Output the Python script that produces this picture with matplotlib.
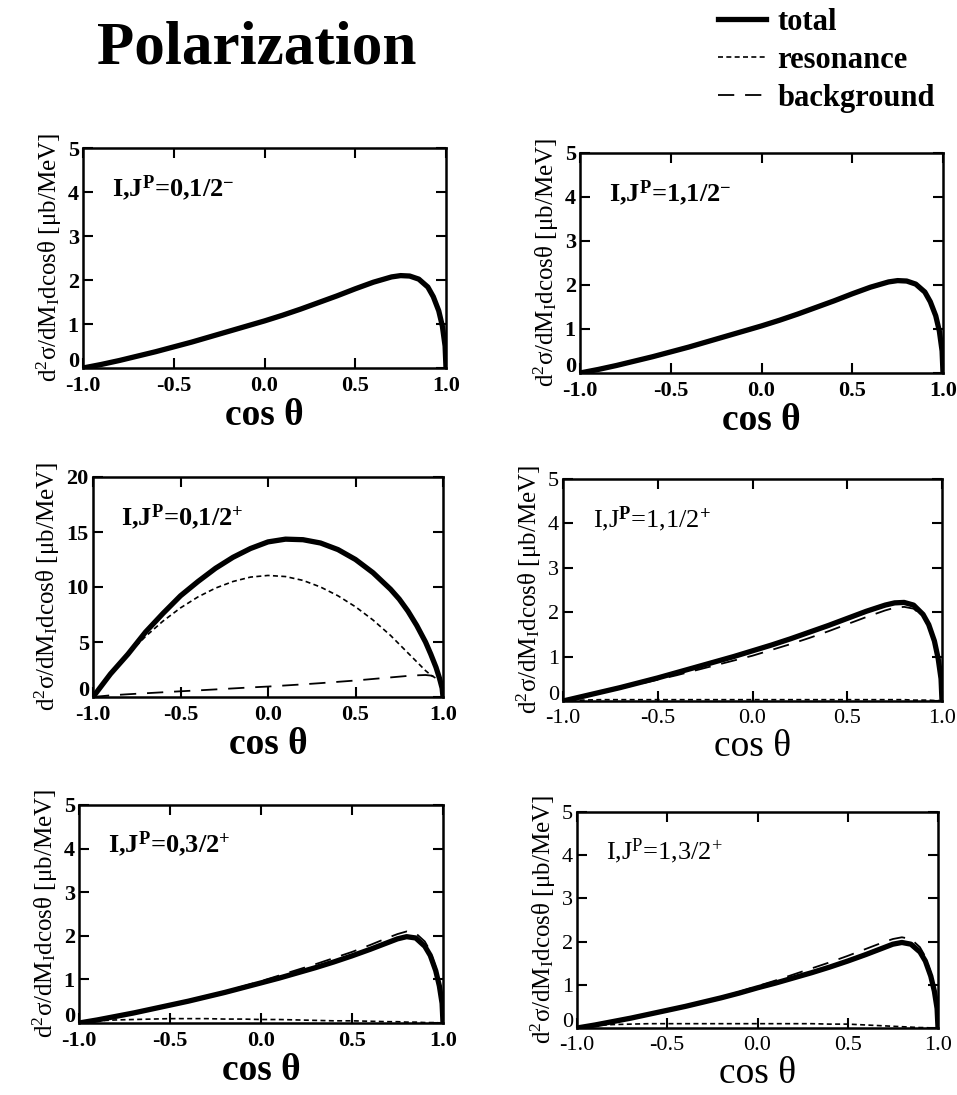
import numpy as np
import matplotlib
matplotlib.use("Agg")
import matplotlib.pyplot as plt
from matplotlib.lines import Line2D
from matplotlib.transforms import ScaledTranslation

plt.rcParams['font.family'] = ['Liberation Serif', 'DejaVu Serif']
plt.rcParams['mathtext.fontset'] = 'custom'
plt.rcParams['mathtext.rm'] = 'Liberation Serif'
plt.rcParams['mathtext.it'] = 'Liberation Serif:italic'
plt.rcParams['mathtext.bf'] = 'Liberation Serif:bold'

# cos(theta) grid shared by all curves
cos_t = [-1.0, -0.9, -0.8, -0.7, -0.6, -0.5, -0.4, -0.3, -0.2, -0.1, 0.0,
         0.1, 0.2, 0.3, 0.4, 0.5, 0.6, 0.7, 0.75, 0.8, 0.85, 0.9, 0.93,
         0.96, 0.98, 0.995, 1.0]

# I,J^P = 0,1/2-
tot_01m = [0.0, 0.08, 0.17, 0.27, 0.37, 0.48, 0.59, 0.71, 0.83, 0.95, 1.07,
           1.2, 1.34, 1.49, 1.64, 1.8, 1.95, 2.07, 2.1, 2.09, 2.02, 1.84, 1.62,
           1.3, 0.95, 0.5, 0.0]
# I,J^P = 1,1/2-
tot_11m = [0.0, 0.08, 0.17, 0.27, 0.37, 0.48, 0.59, 0.71, 0.83, 0.95, 1.07,
           1.2, 1.34, 1.49, 1.64, 1.8, 1.95, 2.07, 2.1, 2.09, 2.02, 1.84, 1.62,
           1.3, 0.95, 0.5, 0.0]
# I,J^P = 0,1/2+
tot_01p = [0.0, 2.1, 3.9, 5.9, 7.6, 9.2, 10.5, 11.7, 12.7, 13.5, 14.1,
           14.35, 14.3, 14.0, 13.4, 12.5, 11.3, 9.8, 8.9, 7.8, 6.5, 5.0, 3.9,
           2.7, 1.7, 0.8, 0.0]
res_01p = [0.0, 2.1, 3.9, 5.5, 6.9, 8.1, 9.1, 9.9, 10.5, 10.9, 11.05,
           10.95, 10.6, 10.0, 9.2, 8.2, 7.0, 5.6, 4.8, 4.0, 3.2, 2.4, 2.0,
           1.7, 1.5, 1.3, 1.2]
bkg_01p = [0.0, 0.15, 0.25, 0.34, 0.43, 0.52, 0.6, 0.69, 0.78, 0.87, 0.95,
           1.05, 1.15, 1.26, 1.38, 1.5, 1.64, 1.78, 1.85, 1.92, 1.97, 2.0, 1.95,
           1.8, 1.6, 1.4, 1.2]
# I,J^P = 1,1/2+
tot_11p = [0.0, 0.1, 0.2, 0.3, 0.41, 0.52, 0.64, 0.76, 0.88, 1.0, 1.13,
           1.26, 1.4, 1.55, 1.7, 1.86, 2.02, 2.16, 2.21, 2.22, 2.16, 1.95, 1.72,
           1.35, 0.95, 0.5, 0.0]
res_11p = [0.0, 0.02, 0.03, 0.03, 0.03, 0.03, 0.03, 0.03, 0.03, 0.03, 0.03,
           0.03, 0.03, 0.03, 0.03, 0.03, 0.03, 0.03, 0.03, 0.03, 0.02, 0.02, 0.02,
           0.01, 0.01, 0.0, 0.0]
bkg_11p = [0.0, 0.09, 0.18, 0.28, 0.38, 0.48, 0.58, 0.69, 0.8, 0.91, 1.02,
           1.15, 1.28, 1.42, 1.57, 1.73, 1.89, 2.04, 2.1, 2.12, 2.08, 1.9, 1.68,
           1.33, 0.94, 0.5, 0.0]
# I,J^P = 0,3/2+
tot_03p = [0.0, 0.07, 0.15, 0.23, 0.32, 0.41, 0.5, 0.6, 0.7, 0.81, 0.92,
           1.03, 1.15, 1.27, 1.4, 1.54, 1.69, 1.85, 1.93, 1.98, 1.95, 1.76, 1.55,
           1.2, 0.85, 0.45, 0.0]
res_03p = [0.0, 0.05, 0.07, 0.08, 0.09, 0.1, 0.1, 0.1, 0.09, 0.09, 0.08,
           0.08, 0.07, 0.06, 0.05, 0.05, 0.04, 0.03, 0.03, 0.02, 0.02, 0.01, 0.01,
           0.01, 0.0, 0.0, 0.0]
bkg_03p = [0.0, 0.07, 0.15, 0.23, 0.32, 0.41, 0.51, 0.61, 0.72, 0.84, 0.96,
           1.09, 1.22, 1.35, 1.49, 1.63, 1.79, 1.96, 2.04, 2.1, 2.06, 1.87, 1.65,
           1.28, 0.9, 0.47, 0.0]
# I,J^P = 1,3/2+
tot_13p = [0.0, 0.07, 0.15, 0.23, 0.32, 0.41, 0.5, 0.6, 0.7, 0.81, 0.93,
           1.04, 1.16, 1.28, 1.41, 1.55, 1.7, 1.86, 1.94, 1.98, 1.94, 1.76, 1.55,
           1.2, 0.85, 0.45, 0.0]
res_13p = [0.0, 0.06, 0.08, 0.09, 0.1, 0.1, 0.1, 0.1, 0.1, 0.1, 0.1,
           0.1, 0.1, 0.1, 0.09, 0.09, 0.07, 0.05, 0.04, 0.03, 0.02, 0.01, 0.01,
           0.0, 0.0, 0.0, 0.0]
bkg_13p = [0.0, 0.07, 0.15, 0.23, 0.32, 0.41, 0.51, 0.61, 0.72, 0.84, 0.97,
           1.1, 1.24, 1.38, 1.52, 1.67, 1.83, 1.99, 2.06, 2.1, 2.06, 1.87, 1.65,
           1.28, 0.9, 0.47, 0.0]

labels = [r"I,J$^{\mathbf{P}}$=0,1/2$^{\mathbf{-}}$",
          r"I,J$^{\mathbf{P}}$=1,1/2$^{\mathbf{-}}$",
          r"I,J$^{\mathbf{P}}$=0,1/2$^{\mathbf{+}}$",
          r"I,J$^{\mathbf{P}}$=1,1/2$^{\mathbf{+}}$",
          r"I,J$^{\mathbf{P}}$=0,3/2$^{\mathbf{+}}$",
          r"I,J$^{\mathrm{P}}$=1,3/2$^{\mathrm{+}}$"]
ymax = [5, 5, 20, 5, 5, 5]
totals = [tot_01m, tot_11m, tot_01p, tot_11p, tot_03p, tot_13p]
resonances = [None, None, res_01p, res_11p, res_03p, res_13p]
backgrounds = [None, None, bkg_01p, bkg_11p, bkg_03p, bkg_13p]

# axes boxes in pixels: left, top, right, bottom
W, H = 957, 1095
boxes = [(83, 148, 446, 368), (580, 153, 943, 373),
         (93, 477, 443, 697), (563, 479, 942, 701),
         (79, 805, 443, 1023), (577, 812, 938, 1028)]
weights = ['bold', 'bold', 'bold', 'normal', 'bold', 'normal']

fig = plt.figure(figsize=(W / 100, H / 100), dpi=100)

for i in range(6):
    l, t, r, b = boxes[i]
    ax = fig.add_axes([l / W, 1 - b / H, (r - l) / W, (b - t) / H])
    ax.plot(cos_t, totals[i], color='black', lw=3.8, solid_capstyle='butt')
    if resonances[i] is not None:
        ax.plot(cos_t, resonances[i], color='black', lw=1.2, dashes=(3, 2))
        ax.plot(cos_t, backgrounds[i], color='black', lw=1.3, dashes=(9, 6))
    ax.set_xlim(-1, 1)
    ax.set_ylim(0, ymax[i])
    ax.set_xticks([-1.0, -0.5, 0.0, 0.5, 1.0])
    ax.set_xticklabels(['-1.0', '-0.5', '0.0', '0.5', '1.0'])
    ax.set_yticks(np.linspace(0, ymax[i], 5 if ymax[i] == 20 else 6))
    ax.tick_params(direction='in', length=7, width=1.5, top=True, right=True,
                   labelsize=16)
    ax.tick_params(axis='x', pad=6)
    ax.tick_params(axis='y', pad=3)
    for lab in ax.get_xticklabels() + ax.get_yticklabels():
        lab.set_fontweight(weights[i])
    # the "0" sits just above the "-1.0", as in the scan
    zero = ax.get_yticklabels()[0]
    zero.set_verticalalignment('bottom')
    zero.set_transform(zero.get_transform() +
                       ScaledTranslation(0, -3 / 72, fig.dpi_scale_trans))
    for s in ax.spines.values():
        s.set_linewidth(1.8)
    ax.set_xlabel("cos θ", fontsize=27, fontweight=weights[i], labelpad=1)
    ax.set_ylabel(r"d$^2$σ/dM$_\mathrm{I}$dcosθ [μb/MeV]", fontsize=18,
                  labelpad=3)
    ax.text(0.08, 0.82, labels[i], transform=ax.transAxes, fontsize=19,
            fontweight=weights[i], va='center')

fig.text(257 / W, 1 - 48 / H, "Polarization", fontsize=44, fontweight='bold',
         ha='center', va='center')

handles = [Line2D([], [], color='black', lw=3.8),
           Line2D([], [], color='black', lw=1.2, dashes=(3, 2)),
           Line2D([], [], color='black', lw=1.3, dashes=(9, 6))]
fig.legend(handles, ['total', 'resonance', 'background'], loc='upper left',
           bbox_to_anchor=(690 / W, 1 - (-20) / H), frameon=False,
           handlelength=1.6, handletextpad=0.35, labelspacing=0.3,
           prop={'weight': 'bold', 'size': 22})

fig.savefig('out.png', dpi=100)
